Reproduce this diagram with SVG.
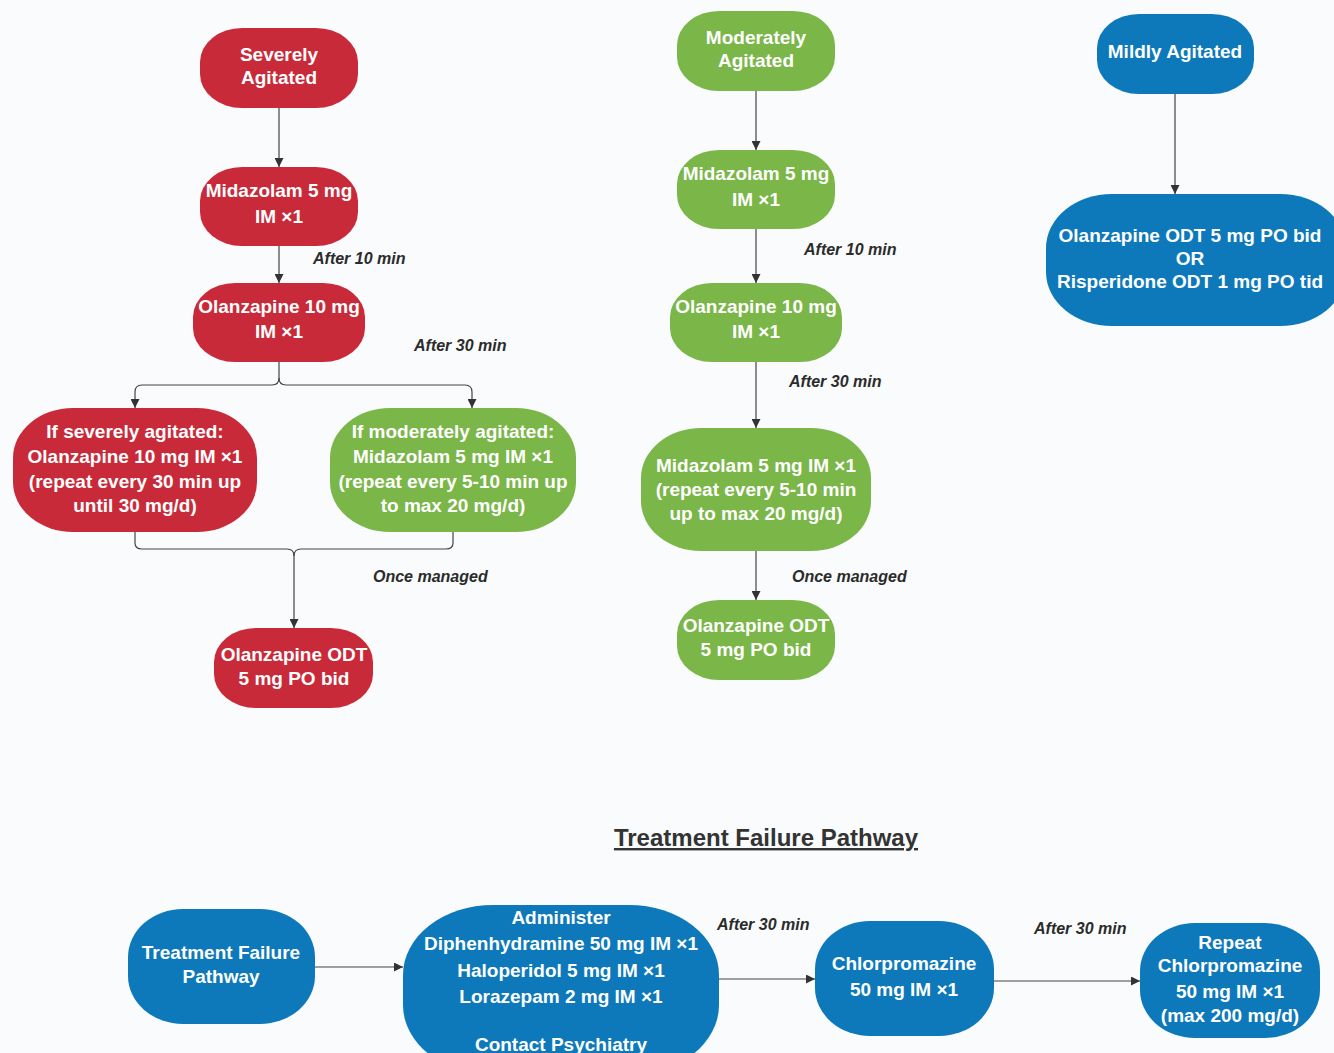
<svg xmlns="http://www.w3.org/2000/svg" width="1334" height="1053" viewBox="0 0 1334 1053">
<defs>
<marker id="ah" viewBox="0 0 10 10" refX="10" refY="5" markerWidth="9" markerHeight="9" markerUnits="userSpaceOnUse" orient="auto">
<path d="M0,0 L10,5 L0,10 z" fill="#333"/>
</marker>
<style>
.red{fill:#c92a39}
.green{fill:#7ab648}
.blue{fill:#0d79ba}
.nt{font-family:"Liberation Sans",Arial,sans-serif;font-weight:bold;font-size:19px;fill:#fff;text-anchor:middle}
.lb{font-family:"Liberation Sans",Arial,sans-serif;font-weight:bold;font-style:italic;font-size:16px;fill:#2b2b2b}
.cn{fill:none;stroke:#444;stroke-width:1.2}
</style>
</defs>
<rect x="0" y="0" width="1334" height="1053" fill="#f9fbfc"/>

<g id="connectors">
<path class="cn" d="M279,108 V167" marker-end="url(#ah)"/>
<path class="cn" d="M279,246 V283" marker-end="url(#ah)"/>
<path class="cn" d="M279,362 V378 Q279,385 272,385 H142 Q135,385 135,392 V408" marker-end="url(#ah)"/>
<path class="cn" d="M279,378 Q279,385 286,385 H465 Q472,385 472,392 V408" marker-end="url(#ah)"/>
<path class="cn" d="M135,532 V543 Q135,549 142,549 H287 Q294,549 294,556 V628" marker-end="url(#ah)"/>
<path class="cn" d="M453,532 V543 Q453,549 446,549 H301 Q294,549 294,556"/>
<path class="cn" d="M756,91 V150" marker-end="url(#ah)"/>
<path class="cn" d="M756,229 V283" marker-end="url(#ah)"/>
<path class="cn" d="M756,362 V428" marker-end="url(#ah)"/>
<path class="cn" d="M756,551 V600" marker-end="url(#ah)"/>
<path class="cn" d="M1175,94 V194" marker-end="url(#ah)"/>
<path class="cn" d="M315,967 H403" marker-end="url(#ah)"/>
<path class="cn" d="M719,979 H815" marker-end="url(#ah)"/>
<path class="cn" d="M994,981 H1140" marker-end="url(#ah)"/>
<text class="lb" x="313" y="264">After 10 min</text>
<text class="lb" x="414" y="351">After 30 min</text>
<text class="lb" x="373" y="582">Once managed</text>
<text class="lb" x="804" y="255">After 10 min</text>
<text class="lb" x="789" y="387">After 30 min</text>
<text class="lb" x="792" y="582">Once managed</text>
<text class="lb" x="717" y="930">After 30 min</text>
<text class="lb" x="1034" y="934">After 30 min</text>
</g>

<g id="severely-agitated">
<rect class="red" x="200" y="28" width="158" height="80" rx="42" ry="34"/>
<text class="nt" x="279" y="61">Severely</text>
<text class="nt" x="279" y="84">Agitated</text>
</g>
<g id="sev-midazolam">
<rect class="red" x="200" y="167" width="158" height="79" rx="42" ry="34"/>
<text class="nt" x="279" y="197">Midazolam 5 mg</text>
<text class="nt" x="279" y="223">IM ×1</text>
</g>
<g id="sev-olanzapine">
<rect class="red" x="193" y="283" width="172" height="79" rx="42" ry="34"/>
<text class="nt" x="279" y="313">Olanzapine 10 mg</text>
<text class="nt" x="279" y="338">IM ×1</text>
</g>
<g id="if-severely">
<rect class="red" x="13" y="408" width="244" height="124" rx="60" ry="50"/>
<text class="nt" x="135" y="438">If severely agitated:</text>
<text class="nt" x="135" y="463">Olanzapine 10 mg IM ×1</text>
<text class="nt" x="135" y="488">(repeat every 30 min up</text>
<text class="nt" x="135" y="512">until 30 mg/d)</text>
</g>
<g id="if-moderately">
<rect class="green" x="330" y="408" width="246" height="124" rx="60" ry="50"/>
<text class="nt" x="453" y="438">If moderately agitated:</text>
<text class="nt" x="453" y="463">Midazolam 5 mg IM ×1</text>
<text class="nt" x="453" y="488">(repeat every 5-10 min up</text>
<text class="nt" x="453" y="512">to max 20 mg/d)</text>
</g>
<g id="sev-odt">
<rect class="red" x="214" y="628" width="159" height="80" rx="42" ry="34"/>
<text class="nt" x="294" y="661">Olanzapine ODT</text>
<text class="nt" x="294" y="685">5 mg PO bid</text>
</g>

<g id="moderately-agitated">
<rect class="green" x="677" y="11" width="158" height="80" rx="42" ry="34"/>
<text class="nt" x="756" y="44">Moderately</text>
<text class="nt" x="756" y="67">Agitated</text>
</g>
<g id="mod-midazolam">
<rect class="green" x="677" y="150" width="158" height="79" rx="42" ry="34"/>
<text class="nt" x="756" y="180">Midazolam 5 mg</text>
<text class="nt" x="756" y="206">IM ×1</text>
</g>
<g id="mod-olanzapine">
<rect class="green" x="670" y="283" width="172" height="79" rx="42" ry="34"/>
<text class="nt" x="756" y="313">Olanzapine 10 mg</text>
<text class="nt" x="756" y="338">IM ×1</text>
</g>
<g id="mod-midazolam-repeat">
<rect class="green" x="641" y="428" width="230" height="123" rx="60" ry="50"/>
<text class="nt" x="756" y="472">Midazolam 5 mg IM ×1</text>
<text class="nt" x="756" y="496">(repeat every 5-10 min</text>
<text class="nt" x="756" y="520">up to max 20 mg/d)</text>
</g>
<g id="mod-odt">
<rect class="green" x="677" y="600" width="158" height="80" rx="42" ry="34"/>
<text class="nt" x="756" y="632">Olanzapine ODT</text>
<text class="nt" x="756" y="656">5 mg PO bid</text>
</g>

<g id="mildly-agitated">
<rect class="blue" x="1097" y="14" width="157" height="80" rx="42" ry="34"/>
<text class="nt" x="1175" y="58">Mildly Agitated</text>
</g>
<g id="mild-odt">
<rect class="blue" x="1046" y="194" width="300" height="132" rx="66" ry="54"/>
<text class="nt" x="1190" y="242">Olanzapine ODT 5 mg PO bid</text>
<text class="nt" x="1190" y="265">OR</text>
<text class="nt" x="1190" y="288">Risperidone ODT 1 mg PO tid</text>
</g>

<g id="title">
<text x="766" y="846" font-family="Liberation Sans,Arial,sans-serif" font-weight="bold" font-size="24" fill="#333" text-anchor="middle" text-decoration="underline">Treatment Failure Pathway</text>
</g>

<g id="tf-start">
<rect class="blue" x="128" y="909" width="187" height="115" rx="55" ry="48"/>
<text class="nt" x="221" y="959">Treatment Failure</text>
<text class="nt" x="221" y="983">Pathway</text>
</g>
<g id="tf-administer">
<rect class="blue" x="403" y="905" width="316" height="170" rx="90" ry="70"/>
<text class="nt" x="561" y="924">Administer</text>
<text class="nt" x="561" y="950">Diphenhydramine 50 mg IM ×1</text>
<text class="nt" x="561" y="977">Haloperidol 5 mg IM ×1</text>
<text class="nt" x="561" y="1003">Lorazepam 2 mg IM ×1</text>
<text class="nt" x="561" y="1051">Contact Psychiatry</text>
</g>
<g id="tf-chlorpromazine">
<rect class="blue" x="815" y="921" width="179" height="115" rx="55" ry="48"/>
<text class="nt" x="904" y="970">Chlorpromazine</text>
<text class="nt" x="904" y="996">50 mg IM ×1</text>
</g>
<g id="tf-repeat">
<rect class="blue" x="1140" y="923" width="180" height="115" rx="55" ry="48"/>
<text class="nt" x="1230" y="949">Repeat</text>
<text class="nt" x="1230" y="972">Chlorpromazine</text>
<text class="nt" x="1230" y="998">50 mg IM ×1</text>
<text class="nt" x="1230" y="1022">(max 200 mg/d)</text>
</g>
</svg>
